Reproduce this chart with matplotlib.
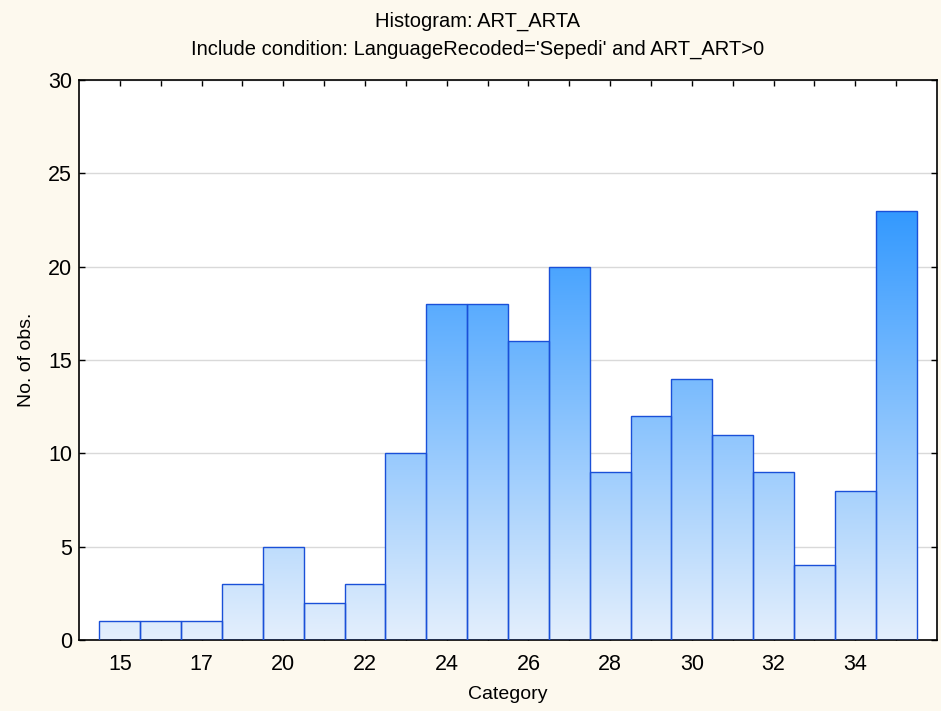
import numpy as np
import matplotlib
matplotlib.use("Agg")
import matplotlib.pyplot as plt
from matplotlib.colors import LinearSegmentedColormap

# histogram counts, one per bar
counts = [1, 1, 1, 3, 5, 2, 3, 10, 18, 18, 16, 20, 9, 12, 14, 11, 9, 4, 8, 23]
# only every other bar got a label in the original
tick_labels = ["15", "", "17", "", "20", "", "22", "", "24", "",
               "26", "", "28", "", "30", "", "32", "", "34", ""]
yticks = [0, 5, 10, 15, 20, 25, 30]

plt.rcParams['font.family'] = ['Liberation Sans', 'DejaVu Sans']

fig = plt.figure(figsize=(9.41, 7.11), dpi=100, facecolor="#fdf9ee")
ax = fig.add_axes([0.084, 0.0999, 0.9117, 0.7876])
ax.set_facecolor("white")

x = np.arange(len(counts))
ymax = max(counts)

# gradient: light at 0, strong blue at the tallest bar
cmap = LinearSegmentedColormap.from_list("grad", ["#e4effc", "#3399ff"])
grad = np.linspace(0, 1, 256).reshape(-1, 1)

bars = ax.bar(x, counts, width=1.0, facecolor="none", edgecolor="#1a50d8",
              linewidth=1.0, zorder=3)
for b in bars:
    im = ax.imshow(grad, cmap=cmap, origin="lower", aspect="auto",
                   extent=[-1, 20, 0, ymax], interpolation="bilinear", zorder=2)
    im.set_clip_path(b)

ax.set_xlim(-1.0, 20.0)
ax.set_ylim(0, 30)
ax.set_yticks(yticks)
ax.set_xticks(x)
ax.set_xticklabels(tick_labels)

ax.yaxis.grid(True, color="#d9d9d9", linewidth=1.0, zorder=0)
ax.set_axisbelow(True)

ax.tick_params(direction="in", length=4, width=1, labelsize=15.5, colors="black",
               top=True, right=True, pad=5)
ax.tick_params(axis="x", pad=10)
for s in ax.spines.values():
    s.set_linewidth(1.2)
    s.set_color("black")

ax.set_xlabel("Category", fontsize=14, labelpad=8)
ax.set_ylabel("No. of obs.", fontsize=14, labelpad=9)

fig.text(0.507, 0.970, "Histogram: ART_ARTA", ha="center", va="center", fontsize=14.5)
fig.text(0.507, 0.931, "Include condition: LanguageRecoded='Sepedi' and ART_ART>0",
         ha="center", va="center", fontsize=14.5)

fig.savefig("out.png", dpi=100, facecolor=fig.get_facecolor())
